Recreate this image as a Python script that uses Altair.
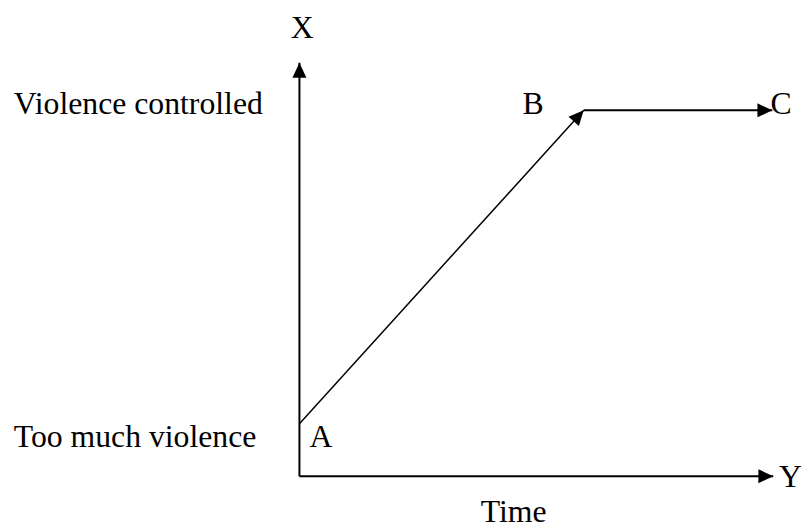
import altair as alt
import pandas as pd

# Process path (time, level of violence control)
path_labels = ["A", "B", "C"]
path_time = [0.0, 6.0, 9.98]
path_level = [1.27, 8.85, 8.85]

# Axis extents (time axis = "Y", level axis = "X")
axis_time_max = 10.0
axis_level_max = 10.0

# Text labels and their anchor positions in data units
label_text = ["X", "Y", "Time", "Violence controlled", "Too much violence", "A", "B", "C"]
label_time = [0.06, 10.12, 4.52, -6.03, -6.03, 0.21, 4.71, 9.94]
label_level = [10.6, -0.26, -1.12, 8.75, 0.70, 0.70, 8.75, 8.75]
label_align = ["center", "left", "center", "left", "left", "left", "left", "left"]

xs = alt.Scale(domain=[0, axis_time_max], nice=False, zero=False)
ys = alt.Scale(domain=[0, axis_level_max], nice=False, zero=False)

segments = pd.DataFrame({
    "t": [0.0, 0.0, path_time[0], path_time[1]],
    "v": [0.0, 0.0, path_level[0], path_level[1]],
    "t2": [0.0, axis_time_max, path_time[1], path_time[2]],
    "v2": [axis_level_max, 0.0, path_level[1], path_level[2]],
    "w": [2.0, 2.0, 1.5, 2.0],
})

heads = pd.DataFrame({
    "t": [0.0, axis_time_max, path_time[1], path_time[2]],
    "v": [axis_level_max, 0.0, path_level[1], path_level[2]],
    "ang": [0, 90, 42.3, 90],
})

labels = pd.DataFrame({
    "text": label_text,
    "t": label_time,
    "v": label_level,
    "align": label_align,
})

rules = alt.Chart(segments).mark_rule(color="black", strokeCap="butt").encode(
    x=alt.X("t:Q", scale=xs, axis=None),
    y=alt.Y("v:Q", scale=ys, axis=None),
    x2="t2:Q",
    y2="v2:Q",
    strokeWidth=alt.StrokeWidth("w:Q", scale=None),
)

arrows = alt.Chart(heads).mark_point(
    shape="M0,0L-0.47,1L0.47,1Z", filled=True, size=900, color="black", opacity=1
).encode(
    x=alt.X("t:Q", scale=xs, axis=None),
    y=alt.Y("v:Q", scale=ys, axis=None),
    angle=alt.Angle("ang:Q", scale=None),
)

text_left = alt.Chart(labels).transform_filter(alt.datum.align == "left").mark_text(
    font="Liberation Serif", fontSize=32, align="left", baseline="alphabetic", color="black"
).encode(
    x=alt.X("t:Q", scale=xs, axis=None),
    y=alt.Y("v:Q", scale=ys, axis=None),
    text="text:N",
)

text_center = alt.Chart(labels).transform_filter(alt.datum.align == "center").mark_text(
    font="Liberation Serif", fontSize=32, align="center", baseline="alphabetic", color="black"
).encode(
    x=alt.X("t:Q", scale=xs, axis=None),
    y=alt.Y("v:Q", scale=ys, axis=None),
    text="text:N",
)

chart = alt.layer(rules, arrows, text_left, text_center).properties(
    width=478,
    height=417,
    autosize="none",
    padding={"left": 294, "top": 53, "right": 28, "bottom": 50},
    background="white",
).configure_view(stroke=None)

chart.save("out.html", embed_options={"renderer": "svg", "actions": False})
